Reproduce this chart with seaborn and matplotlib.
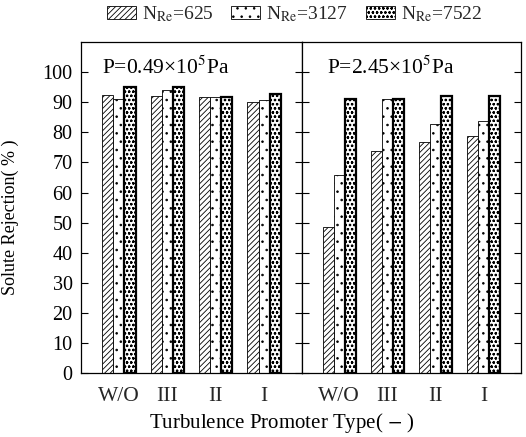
import matplotlib
matplotlib.use("Agg")
import matplotlib.pyplot as plt
import seaborn as sns
import pandas as pd
from matplotlib.patches import Patch

promoters = ["W/O", "III", "II", "I"]
reynolds = ["625", "3127", "7522"]
low_p_625 = [92.3, 92.1, 91.7, 89.9]
low_p_3127 = [91.2, 94.1, 91.7, 90.6]
low_p_7522 = [95.2, 95.0, 91.7, 92.6]
high_p_625 = [48.4, 73.9, 76.7, 78.7]
high_p_3127 = [65.7, 91.2, 82.9, 83.7]
high_p_7522 = [91.2, 91.0, 92.1, 91.9]
panel_titles = ["P=0.49×10$^5$Pa", "P=2.45×10$^5$Pa"]
y_ticks = [0, 10, 20, 30, 40, 50, 60, 70, 80, 90, 100]

sns.set_theme(style="white")
plt.rcParams["font.family"] = ["Liberation Serif", "DejaVu Serif"]
plt.rcParams["mathtext.fontset"] = "stix"
plt.rcParams["hatch.linewidth"] = 0.6

def make_df(s625, s3127, s7522):
    rows = []
    for name, vals in zip(reynolds, [s625, s3127, s7522]):
        for p, v in zip(promoters, vals):
            rows.append({"type": p, "Re": name, "value": v})
    return pd.DataFrame(rows)

dfs = [make_df(low_p_625, low_p_3127, low_p_7522),
       make_df(high_p_625, high_p_3127, high_p_7522)]

hatches = ["//////", "..", "oooo"]
edge_w = [0.6, 0.6, 1.6]

fig = plt.figure(figsize=(5.26, 4.37), dpi=100)
axL = fig.add_axes([0.154, 0.146, 0.420, 0.758])
axR = fig.add_axes([0.574, 0.146, 0.416, 0.758])

for i, (ax, df) in enumerate(zip([axL, axR], dfs)):
    sns.barplot(data=df, x="type", y="value", hue="Re", order=promoters,
                hue_order=reynolds, width=0.69, ax=ax, legend=False,
                palette=["white"] * 3, edgecolor="black", linewidth=0.6,
                errorbar=None, saturation=1)
    for c, h, lw in zip(ax.containers, hatches, edge_w):
        for bar in c:
            bar.set_hatch(h)
            bar.set_facecolor("white")
            bar.set_edgecolor("black")
            bar.set_linewidth(lw)
    ax.set_xlim(-0.78, 3.78)
    ax.set_ylim(0, 110)
    ax.set_yticks(y_ticks)
    ax.set_xlabel("")
    ax.set_ylabel("")
    ax.tick_params(axis="y", direction="in", left=True, right=True, length=5,
                   width=0.8, labelsize=14.5, colors="black", pad=6)
    ax.tick_params(axis="x", bottom=False, labelsize=15.5, pad=4)
    for s in ax.spines.values():
        s.set_color("black")
        s.set_linewidth(0.9)
    ax.text(-0.34 if i == 0 else -0.26, 101.5, panel_titles[i], fontsize=15.5,
            va="center", ha="left", color="black")

axR.tick_params(axis="y", labelleft=False)
axL.set_ylabel("Solute Rejection( % )", fontsize=13, color="black")
axL.yaxis.set_label_coords(-0.28, 0.471)
fig.text(0.535, 0.032, "Turbulence Promoter Type( $-$ )", fontsize=15,
         ha="center", va="center", color="black")

handles = [Patch(facecolor="white", edgecolor="black", hatch=h, linewidth=0.6)
           for h in hatches]
labels = [r"N$_{\mathrm{Re}}$=" + r for r in reynolds]
fig.legend(handles, labels, loc="center", bbox_to_anchor=(0.56, 0.968), ncol=3,
           frameon=False, fontsize=14, handlelength=1.5, handleheight=0.7,
           columnspacing=0.9, handletextpad=0.3)

fig.savefig("out.png", dpi=100)
